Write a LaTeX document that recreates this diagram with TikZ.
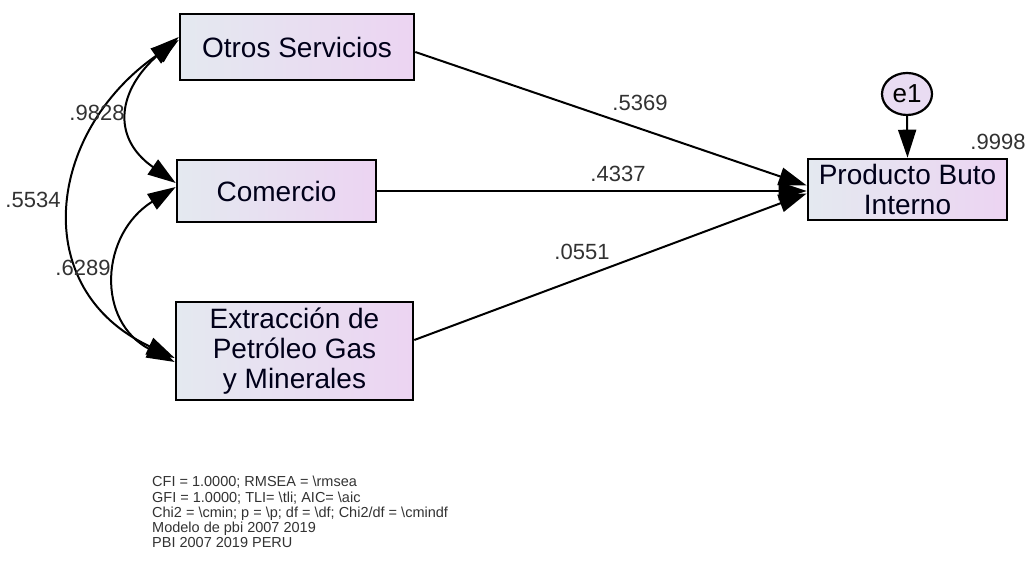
\documentclass[tikz,border=0pt]{standalone}
\usepackage{fontspec}
\setmainfont{Liberation Sans}
\usetikzlibrary{arrows.meta,shapes.geometric}
\definecolor{boxleft}{RGB}{228,233,240}
\definecolor{boxright}{RGB}{236,212,242}
\definecolor{errfill}{RGB}{233,220,242}
\definecolor{numgray}{RGB}{50,50,50}
\tikzset{
  obsvar/.style={draw=black, line width=2.6pt, left color=boxleft, right color=boxright,
    inner sep=0pt, align=center, text=black!90!blue, font=\fontsize{28}{30}\selectfont},
  errvar/.style={ellipse, draw=black, line width=2.2pt, fill=errfill, inner sep=0pt,
    minimum width=50pt, minimum height=42pt, font=\fontsize{26}{26}\selectfont},
  regarrow/.style={line width=2pt, -{Triangle[length=28pt,width=18pt]}},
  covarrow/.style={line width=2pt, {Triangle[length=28pt,width=18pt]}-{Triangle[length=28pt,width=18pt]}},
  coef/.style={text=numgray, font=\fontsize{22}{22}\selectfont, inner sep=0pt}
}
\begin{document}
\begin{tikzpicture}[x=1pt, y=1pt]
        \useasboundingbox (0,0) rectangle (1030,568);
        % variables observadas
        \node[obsvar, minimum width=234pt, minimum height=66pt] (os) at (297,521) {Otros Servicios};
        \node[obsvar, minimum width=199pt, minimum height=62pt] (co) at (276.5,377) {Comercio};
        \node[obsvar, minimum width=237pt, minimum height=98pt] (ex) at (294.5,217) {Extracción de\\Petróleo Gas\\y Minerales};
        \node[obsvar, minimum width=199pt, minimum height=61pt] (pbi) at (907.5,378.5) {Producto Buto\\Interno};
        % error
        \node[errvar] (e1) at (907,474) {e1};
        \draw[regarrow] (e1.south) -- (pbi.north);
        \node[coef] (r2) at (998,426) {.9998};
        % regresiones
        \draw[regarrow] ([yshift=-5pt]os.east) -- ([yshift=4pt]pbi.west);
        \draw[regarrow] (co.east) -- (co.east -| pbi.west);
        \draw[regarrow] ([yshift=11pt]ex.east) -- ([yshift=-4pt]pbi.west);
        \node[coef] (b1) at (640,465) {.5369};
        \node[coef] (b2) at (618,394) {.4337};
        \node[coef] (b3) at (582,316) {.0551};
        % covarianzas
        \draw[covarrow] ([yshift=10pt]os.west) to[out=221, in=145, looseness=1.4] ([yshift=8pt]co.west);
        \draw[covarrow] ([yshift=4pt]co.west) to[out=212, in=153, looseness=1.3] ([yshift=-11pt]ex.west);
        \draw[covarrow] ([yshift=7pt]os.west) to[out=215, in=155, looseness=1.3] ([yshift=-7pt]ex.west);
        \node[coef] (c1) at (97,455) {.9828};
        \node[coef] (c2) at (83,300) {.6289};
        \node[coef] (c3) at (33,368) {.5534};
        % ajuste del modelo
        \node[anchor=north west, inner sep=0pt, align=left, text=numgray,
              font=\fontsize{14.5}{15.3}\selectfont] (fit) at (152,92)
              {CFI = 1.0000; RMSEA = \textbackslash rmsea\\
               GFI = 1.0000; TLI= \textbackslash tli; AIC= \textbackslash aic\\
               Chi2 = \textbackslash cmin; p = \textbackslash p; df = \textbackslash df; Chi2/df = \textbackslash cmindf\\
               Modelo de pbi 2007 2019\\
               PBI 2007 2019 PERU};
\end{tikzpicture}
\end{document}
